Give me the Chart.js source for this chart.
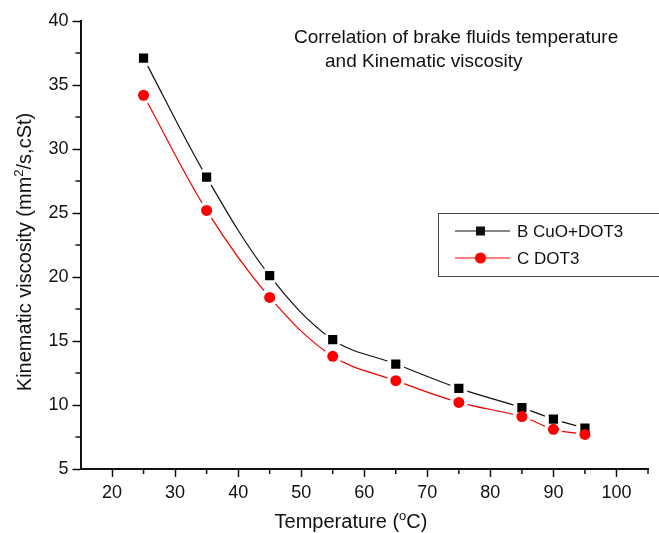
<!DOCTYPE html>
<html><head><meta charset="utf-8">
<script src="https://cdn.jsdelivr.net/npm/chart.js@4/dist/chart.umd.min.js"></script>
<style>html,body{margin:0;padding:0;background:#fff}#w{width:659px;height:533px}</style>
</head><body><div id="w"><canvas id="c" width="659" height="533"></canvas></div>
<script>
const temperatures = [25, 35, 45, 55, 65, 75, 85, 90, 95];
const viscosityCuO = [37.1, 27.8, 20.1, 15.1, 13.2, 11.3, 9.8, 8.9, 8.2];
const viscosityDOT3 = [34.2, 25.2, 18.4, 13.8, 11.9, 10.2, 9.1, 8.1, 7.7];
const xTickValues = [20, 30, 40, 50, 60, 70, 80, 90, 100];
const xMinorValues = [25, 35, 45, 55, 65, 75, 85, 95, 105];
const yTickValues = [5, 10, 15, 20, 25, 30, 35, 40];
const yMinorValues = [7.5, 12.5, 17.5, 22.5, 27.5, 32.5, 37.5];
const seriesNames = ['B CuO+DOT3', 'C DOT3'];
const titleLines = ['Correlation of brake fluids temperature', 'and Kinematic viscosity'];

const FONT = '"Liberation Sans", Arial, sans-serif';
const TXT = '#111';
const pts = arr => temperatures.map((t, i) => ({x: t, y: arr[i]}));

const gapClip = {
  id: 'gapClip',
  beforeDatasetDraw(chart, args) {
    const ds = chart.data.datasets[args.index];
    if (!ds.gap) return;
    const ctx = chart.ctx;
    ctx.save();
    ctx.beginPath();
    ctx.rect(0, 0, chart.width, chart.height);
    args.meta.data.forEach(p => {
      ctx.moveTo(p.x + ds.gap, p.y);
      ctx.arc(p.x, p.y, ds.gap, 0, Math.PI * 2);
    });
    ctx.clip('evenodd');
  },
  afterDatasetDraw(chart, args) {
    const ds = chart.data.datasets[args.index];
    if (ds.gap) chart.ctx.restore();
  }
};

const decor = {
  id: 'decor',
  afterDraw(chart) {
    const ctx = chart.ctx, xs = chart.scales.x, ys = chart.scales.y;
    ctx.save();
    ctx.strokeStyle = '#111'; ctx.lineWidth = 1.5;
    ctx.beginPath();
    xMinorValues.forEach(v => { const px = xs.getPixelForValue(v); ctx.moveTo(px, ys.bottom); ctx.lineTo(px, ys.bottom + 5); });
    yMinorValues.forEach(v => { const py = ys.getPixelForValue(v); ctx.moveTo(xs.left, py); ctx.lineTo(xs.left - 5, py); });
    ctx.stroke();
    // chart title
    ctx.fillStyle = TXT;
    ctx.font = '19px ' + FONT;
    ctx.textBaseline = 'alphabetic';
    ctx.textAlign = 'left';
    ctx.fillText(titleLines[0], 294, 43);
    ctx.fillText(titleLines[1], 325, 67);
    // x axis title with superscript o
    const p1 = 'Temperature (', sup = 'o', p2 = 'C)';
    ctx.font = '20px ' + FONT;
    const w1 = ctx.measureText(p1).width, w3 = ctx.measureText(p2).width;
    ctx.font = '13px ' + FONT;
    const w2 = ctx.measureText(sup).width;
    let x0 = 351 - (w1 + w2 + w3) / 2;
    ctx.font = '20px ' + FONT; ctx.fillText(p1, x0, 528);
    ctx.font = '13px ' + FONT; ctx.fillText(sup, x0 + w1, 520);
    ctx.font = '20px ' + FONT; ctx.fillText(p2, x0 + w1 + w2, 528);
    // y axis title with superscript 2
    ctx.save();
    ctx.translate(31, 252);
    ctx.rotate(-Math.PI / 2);
    const q1 = 'Kinematic viscosity (mm', q2 = '2', q3 = '/s,cSt)';
    ctx.font = '20px ' + FONT;
    const v1 = ctx.measureText(q1).width, v3 = ctx.measureText(q3).width;
    ctx.font = '13px ' + FONT;
    const v2 = ctx.measureText(q2).width;
    let y0 = -(v1 + v2 + v3) / 2;
    ctx.font = '20px ' + FONT; ctx.fillText(q1, y0, 0);
    ctx.font = '13px ' + FONT; ctx.fillText(q2, y0 + v1, -8);
    ctx.font = '20px ' + FONT; ctx.fillText(q3, y0 + v1 + v2, 0);
    ctx.restore();
    // legend
    ctx.strokeStyle = '#444'; ctx.lineWidth = 1;
    ctx.strokeRect(438.5, 213.5, 230, 63);
    const rows = [{y: 231, c: '#111', style: 'rect'}, {y: 258, c: '#ff0000', style: 'circle'}];
    ctx.textBaseline = 'middle';
    rows.forEach((r, i) => {
      ctx.strokeStyle = r.c; ctx.lineWidth = 1.2;
      ctx.beginPath(); ctx.moveTo(455, r.y); ctx.lineTo(510, r.y); ctx.stroke();
      ctx.fillStyle = r.c;
      if (r.style === 'rect') ctx.fillRect(476, r.y - 4.5, 9, 9);
      else { ctx.beginPath(); ctx.arc(480.5, r.y, 5.5, 0, Math.PI * 2); ctx.fill(); }
      ctx.fillStyle = TXT; ctx.font = '17px ' + FONT;
      ctx.fillText(seriesNames[i], 517, r.y + 1);
    });
    ctx.restore();
  }
};

new Chart(document.getElementById('c'), {
  type: 'scatter',
  data: {
    datasets: [
      {label: seriesNames[0], data: pts(viscosityCuO), showLine: true, gap: 9, borderColor: '#111', borderWidth: 1.2, pointRadius: 0, tension: 0.35, order: 4},
      {label: seriesNames[1], data: pts(viscosityDOT3), showLine: true, gap: 9, borderColor: '#f00000', borderWidth: 1.2, pointRadius: 0, tension: 0.35, order: 3},
      {label: seriesNames[0] + ' pts', data: pts(viscosityCuO), showLine: false, pointStyle: 'rect', pointRadius: 6.5, backgroundColor: '#000', borderColor: '#000', borderWidth: 0, order: 2},
      {label: seriesNames[1] + ' pts', data: pts(viscosityDOT3), showLine: false, pointStyle: 'circle', pointRadius: 5.5, backgroundColor: '#ff0000', borderColor: '#ff0000', borderWidth: 0, order: 1}
    ]
  },
  options: {
    responsive: false, animation: false, devicePixelRatio: 1,
    layout: {padding: {left: 0, right: 11, top: 21, bottom: 0}},
    plugins: {legend: {display: false}, tooltip: {enabled: false}},
    scales: {
      x: {
        type: 'linear', min: 15, max: 105,
        afterFit: s => { s.height = 64; },
        afterBuildTicks: s => { s.ticks = xTickValues.map(v => ({value: v})); },
        grid: {display: true, drawOnChartArea: false, tickLength: 8, tickColor: '#111', tickWidth: 1.5},
        border: {display: true, color: '#111', width: 2},
        ticks: {color: TXT, font: {family: FONT, size: 18}, padding: 5, maxRotation: 0, autoSkip: false}
      },
      y: {
        type: 'linear', min: 5, max: 40,
        afterFit: s => { s.width = 80.5; },
        afterBuildTicks: s => { s.ticks = yTickValues.map(v => ({value: v})); },
        grid: {display: true, drawOnChartArea: false, tickLength: 8, tickColor: '#111', tickWidth: 1.5},
        border: {display: true, color: '#111', width: 2},
        ticks: {color: TXT, font: {family: FONT, size: 18}, padding: 4, autoSkip: false}
      }
    }
  },
  plugins: [gapClip, decor]
});
</script></body></html>
